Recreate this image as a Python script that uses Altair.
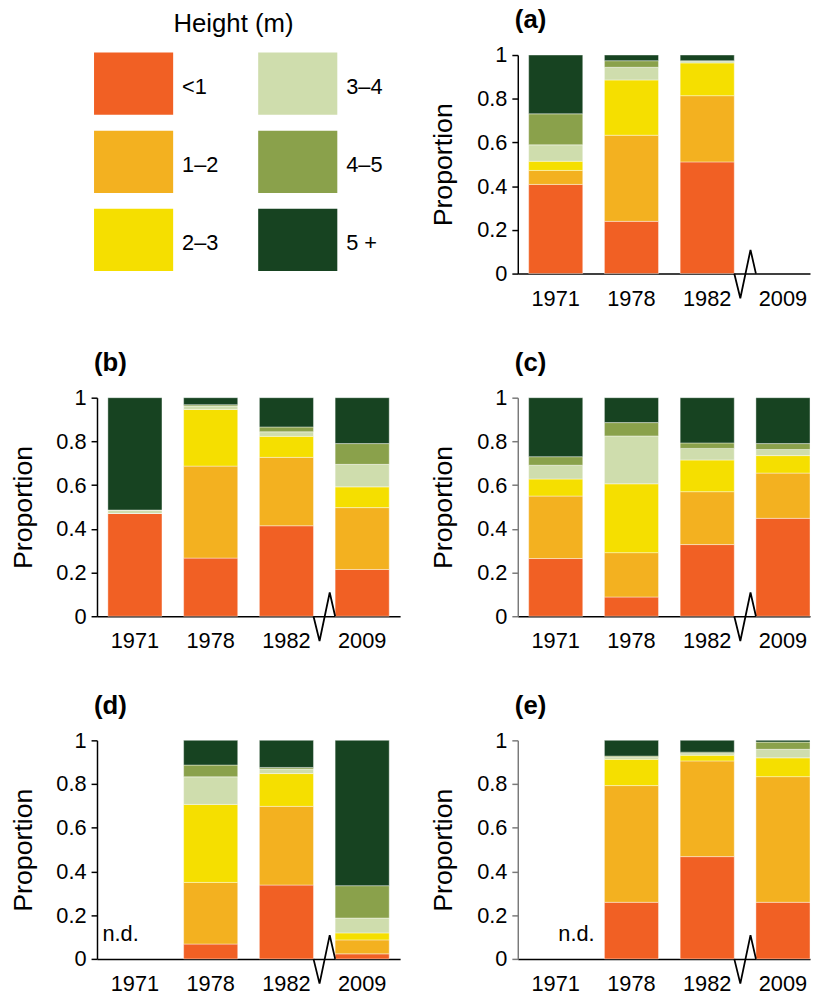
import altair as alt
import pandas as pd

# ---------------- data ----------------
years = ["1971", "1978", "1982", "2009"]
classes = ["<1", "1–2", "2–3", "3–4", "4–5", "5 +"]
colors = ["#F16024", "#F3B120", "#F5DF00", "#CFDDAD", "#8AA14B", "#174321"]
legend_title = "Height (m)"
panel_labels = ["(a)", "(b)", "(c)", "(d)", "(e)"]

# proportions per year, ordered <1, 1–2, 2–3, 3–4, 4–5, 5 +
panel_a = {
    "1971": [0.408, 0.064, 0.042, 0.075, 0.142, 0.269],
    "1978": [0.239, 0.394, 0.253, 0.058, 0.030, 0.026],
    "1982": [0.511, 0.303, 0.150, 0.008, 0.002, 0.026],
}
panel_b = {
    "1971": [0.470, 0.000, 0.000, 0.016, 0.000, 0.514],
    "1978": [0.266, 0.421, 0.259, 0.016, 0.006, 0.032],
    "1982": [0.414, 0.313, 0.096, 0.021, 0.022, 0.134],
    "2009": [0.214, 0.283, 0.095, 0.103, 0.095, 0.210],
}
panel_c = {
    "1971": [0.264, 0.286, 0.078, 0.063, 0.039, 0.270],
    "1978": [0.088, 0.203, 0.315, 0.219, 0.061, 0.114],
    "1982": [0.328, 0.242, 0.145, 0.053, 0.025, 0.207],
    "2009": [0.448, 0.207, 0.080, 0.028, 0.027, 0.210],
}
panel_d = {
    "1978": [0.068, 0.282, 0.357, 0.126, 0.054, 0.113],
    "1982": [0.338, 0.360, 0.150, 0.021, 0.007, 0.124],
    "2009": [0.023, 0.064, 0.032, 0.068, 0.148, 0.665],
}
panel_e = {
    "1978": [0.259, 0.534, 0.120, 0.010, 0.005, 0.072],
    "1982": [0.468, 0.438, 0.026, 0.008, 0.006, 0.054],
    "2009": [0.259, 0.575, 0.086, 0.039, 0.033, 0.008],
}
y_ticks = [0, 0.2, 0.4, 0.6, 0.8, 1]

# ---------------- layout / style ----------------
FONT = "Liberation Sans"
FS = 22
H = 221
STEP = 76.6
BW = 54.7
OFF = 11.0
W_LEFT = OFF + 3 * STEP + BW + 11.0
W_RIGHT = OFF + 3 * STEP + BW
PI = 1 - BW / STEP
ZIG_FX = [0.0, 0.28, 0.75, 1.0]     # axis-break marker shape (fraction of gap)
ZIG_DY = [0, 25, -24, 0]            # axis-break marker shape (px)


def band_scale(width):
    extra = width - STEP * (len(years) - PI)
    return alt.Scale(domain=years, paddingInner=PI,
                     paddingOuter=extra / (2 * STEP), align=OFF / extra)


def panel(data, letter, width, ycolor, nd=False):
    rows = []
    for yr, vals in data.items():
        for i, (c, v) in enumerate(zip(classes, vals)):
            rows.append({"year": yr, "cls": c, "idx": i, "value": v})
    df = pd.DataFrame(rows)
    ys = alt.Scale(domain=[0, 1], nice=False)

    bars = alt.Chart(df).mark_bar(stroke="white", strokeWidth=0.4).encode(
        x=alt.X("year:N", scale=band_scale(width), title=None,
                axis=alt.Axis(labelAngle=0, ticks=False, tickSize=0, labelPadding=15,
                              labelFontSize=FS, labelFont=FONT, labelColor="black",
                              domainColor="black", domainWidth=1.5)),
        y=alt.Y("value:Q", stack="zero", scale=ys, title="Proportion",
                axis=alt.Axis(values=y_ticks, format=".1~f", grid=False,
                              tickSize=6, tickWidth=1.5, tickColor=ycolor,
                              domainColor=ycolor, domainWidth=1.5,
                              labelFontSize=FS, labelFont=FONT, labelColor="black",
                              labelPadding=5, titleFontSize=27, titleFont=FONT,
                              titleFontWeight="normal", titleColor="black",
                              titlePadding=19)),
        color=alt.Color("cls:N", scale=alt.Scale(domain=classes, range=colors), legend=None),
        order=alt.Order("idx:Q", sort="ascending"),
    )

    gx0 = OFF + 2 * STEP + BW
    gap = STEP - BW
    zig_df = pd.DataFrame({"px": [gx0 + f * gap for f in ZIG_FX],
                           "py": [H + d for d in ZIG_DY],
                           "k": list(range(len(ZIG_FX)))})
    zig = alt.Chart(zig_df).mark_line(color="black", strokeWidth=1.8).encode(
        x=alt.X("px:Q", scale=None, axis=None),
        y=alt.Y("py:Q", scale=None, axis=None),
        order="k:Q",
    )
    lab = alt.Chart(pd.DataFrame({"t": [letter]})).mark_text(
        align="left", baseline="alphabetic", fontSize=26, fontWeight="bold",
        font=FONT, color="black").encode(
        x=alt.value(-3), y=alt.value(-27), text="t:N")
    layers = [bars, zig, lab]
    if nd:
        nd_df = pd.DataFrame({"year": ["1971"], "value": [0.0], "t": ["n.d."]})
        ndt = alt.Chart(nd_df).mark_text(align="left", baseline="alphabetic",
                                         dx=-BW / 2 - 5.5, dy=-18,
                                         fontSize=FS, font=FONT, color="black").encode(
            x=alt.X("year:N", scale=band_scale(width), axis=None),
            y=alt.Y("value:Q", scale=ys, axis=None),
            text="t:N",
        )
        layers.append(ndt)
    return alt.layer(*layers).resolve_scale(x="independent", y="independent").properties(
        width=width, height=H)


# ---------------- legend panel ----------------
leg_df = pd.DataFrame({"cls": classes,
                       "col": [i // 3 for i in range(len(classes))],
                       "row": [i % 3 for i in range(len(classes))]})
lx = alt.Scale(domain=[0, 1], range=[-3, 243], paddingInner=0.518, paddingOuter=0)
ly = alt.Scale(domain=[0, 1, 2], range=[-2.5, 218.5], paddingInner=0.2025, paddingOuter=0)
leg_rect = alt.Chart(leg_df).mark_rect().encode(
    x=alt.X("col:O", scale=lx, axis=None),
    y=alt.Y("row:O", scale=ly, axis=None),
    color=alt.Color("cls:N", scale=alt.Scale(domain=classes, range=colors), legend=None),
)
leg_text = alt.Chart(leg_df).mark_text(align="left", baseline="middle", dx=9, dy=3,
                                       fontSize=FS, font=FONT, color="black").encode(
    x=alt.X("col:O", scale=lx, axis=None, bandPosition=1),
    y=alt.Y("row:O", scale=ly, axis=None, bandPosition=0.5),
    text="cls:N",
)
leg_title = alt.Chart(pd.DataFrame({"t": [legend_title]})).mark_text(
    align="center", baseline="alphabetic", fontSize=26, font=FONT, color="black").encode(
    x=alt.value(138), y=alt.value(-23), text="t:N")
legend = alt.layer(leg_rect, leg_text, leg_title).properties(width=W_LEFT, height=H)

pa = panel(panel_a, panel_labels[0], W_RIGHT, "black")
pb = panel(panel_b, panel_labels[1], W_LEFT, "black")
pc = panel(panel_c, panel_labels[2], W_RIGHT, "#7a7a7a")
pd_ = panel(panel_d, panel_labels[3], W_LEFT, "black", nd=True)
pe = panel(panel_e, panel_labels[4], W_RIGHT, "#7a7a7a", nd=True)

chart = alt.concat(legend, pa, pb, pc, pd_, pe, columns=2,
                   spacing={"row": 125.5, "column": 522 - 97 - W_LEFT},
                   bounds="flush").properties(
    padding={"left": 1, "top": -6, "right": 0, "bottom": 0}
).configure(font=FONT).configure_view(stroke=None)

chart.save("out.html", embed_options={"renderer": "svg", "actions": False})
